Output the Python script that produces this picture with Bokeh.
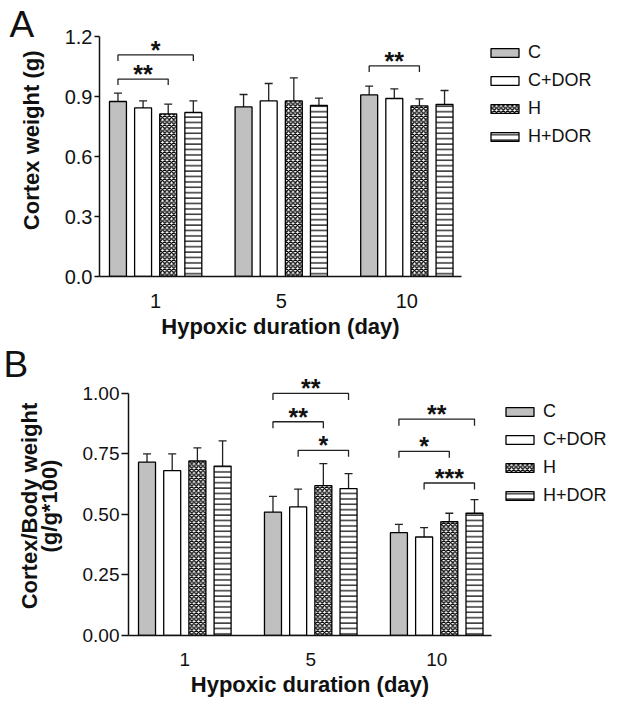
from bokeh.plotting import figure
from bokeh.models import (ColumnDataSource, FixedTicker, Range1d, Whisker, TeeHead,
                          Legend, LegendItem, Title, NumeralTickFormatter)
from bokeh.embed import file_html
from bokeh.resources import INLINE
from bokeh.core.properties import value

# ---------------- data ----------------
days = ["1", "5", "10"]
groups = ["C", "C+DOR", "H", "H+DOR"]

# Panel A: cortex weight (g) - mean and error
a_C = [0.875, 0.848, 0.908]
a_CDOR = [0.843, 0.878, 0.890]
a_H = [0.813, 0.878, 0.853]
a_HDOR = [0.820, 0.855, 0.860]
a_C_err = [0.042, 0.062, 0.044]
a_CDOR_err = [0.035, 0.087, 0.048]
a_H_err = [0.049, 0.115, 0.035]
a_HDOR_err = [0.058, 0.037, 0.070]

# Panel B: cortex/body weight (g/g*100) - mean and error
b_C = [0.716, 0.510, 0.425]
b_CDOR = [0.681, 0.531, 0.407]
b_H = [0.721, 0.619, 0.470]
b_HDOR = [0.700, 0.607, 0.505]
b_C_err = [0.034, 0.065, 0.034]
b_CDOR_err = [0.069, 0.074, 0.039]
b_H_err = [0.054, 0.091, 0.035]
b_HDOR_err = [0.104, 0.062, 0.056]

a_yticks = [0.0, 0.3, 0.6, 0.9, 1.2]
b_yticks = [0.0, 0.25, 0.5, 0.75, 1.0]

# significance brackets: day index, from group, to group, bracket height, label
a_sig_day = [0, 0, 2]
a_sig_from = [0, 0, 0]
a_sig_to = [3, 2, 2]
a_sig_y = [1.108, 0.987, 1.053]
a_sig_txt = ["*", "**", "**"]

b_sig_day = [1, 1, 1, 2, 2, 2]
b_sig_from = [0, 0, 1, 0, 0, 1]
b_sig_to = [3, 2, 3, 3, 2, 3]
b_sig_y = [1.00, 0.883, 0.765, 0.894, 0.761, 0.630]
b_sig_txt = ["**", "**", "*", "**", "*", "***"]

# ---------------- style ----------------
FONT = "Liberation Sans"
OFFSETS = [-0.3, -0.1, 0.1, 0.3]
BAR_W = 0.135
STYLES = [
    dict(fill_color="#c0c0c0"),
    dict(fill_color="white"),
    dict(fill_color="white", hatch_pattern="diagonal_cross", hatch_scale=4.5,
         hatch_weight=1.3, hatch_color="black"),
    dict(fill_color="white", hatch_pattern="horizontal_line", hatch_scale=5.4,
         hatch_weight=1.2, hatch_color="black"),
]


def make_panel(means, errs, sig, yticks, yfmt, ybound, yend, ylabel,
               fw, fh, bl, bt, bb, leg_len, tick_out, tick_font,
               ylab_standoff, ylab_lh, ylab_as_title, leg_xy, leg_margin,
               letter, letter_offset):
    p = figure(frame_width=fw, frame_height=fh, min_border_left=bl,
               min_border_right=0, min_border_top=bt, min_border_bottom=bb,
               x_range=Range1d(-0.447, 2.435), y_range=Range1d(0, yend),
               output_backend="svg", toolbar_location=None)
    p.grid.visible = False
    p.outline_line_color = None

    renderers = []
    for j in range(4):
        src = ColumnDataSource(dict(
            x=[i + OFFSETS[j] for i in range(3)],
            top=means[j],
            upper=[m + e for m, e in zip(means[j], errs[j])]))
        w = Whisker(base="x", lower="top", upper="upper", source=src,
                    lower_head=None,
                    upper_head=TeeHead(size=8, line_width=1.3, line_color="#222222"),
                    line_width=1.3, line_color="#222222")
        p.add_layout(w)
        r = p.vbar(x="x", top="top", width=BAR_W, source=src,
                   line_color="black", line_width=1.3, **STYLES[j])
        renderers.append(r)

    sday, sfrom, sto, sy, stxt = sig
    xs, ys, tx = [], [], []
    for d, a, b, y in zip(sday, sfrom, sto, sy):
        x0 = d + OFFSETS[a]
        x1 = d + OFFSETS[b]
        xs.append([x0, x0, x1, x1])
        ys.append([y - leg_len, y, y, y - leg_len])
        tx.append((x0 + x1) / 2)
    p.multi_line(xs, ys, line_color="#222222", line_width=1.3)
    p.text(x=tx, y=sy, text=stxt, text_font=value(FONT), text_font_style="bold",
           text_font_size="25px", text_align="center", text_baseline="alphabetic",
           y_offset=-5, text_color="#111111")

    xa = p.xaxis[0]
    xa.ticker = FixedTicker(ticks=[0, 1, 2])
    xa.major_label_overrides = {i: d for i, d in enumerate(days)}
    xa.major_tick_out = 0
    xa.major_tick_in = 0
    xa.minor_tick_out = 0
    xa.minor_tick_in = 0
    xa.major_label_standoff = 17
    xa.axis_label = "Hypoxic duration (day)"
    xa.axis_label_standoff = 3

    ya = p.yaxis[0]
    ya.ticker = FixedTicker(ticks=yticks)
    ya.formatter = NumeralTickFormatter(format=yfmt)
    ya.bounds = (0, ybound)
    ya.major_tick_out = tick_out
    ya.major_tick_in = 0
    ya.minor_tick_out = 0
    ya.minor_tick_in = 0
    ya.major_label_standoff = 2

    for ax in (xa, ya):
        ax.axis_line_width = 1.5
        ax.axis_line_color = "#111111"
        ax.major_tick_line_width = 1.5
        ax.major_tick_line_color = "#111111"
        ax.major_label_text_font = FONT
        ax.major_label_text_font_size = tick_font
        ax.major_label_text_color = "#111111"
        ax.axis_label_text_font = FONT
        ax.axis_label_text_font_size = "22px"
        ax.axis_label_text_font_style = "bold"
        ax.axis_label_text_color = "#111111"

    if ylab_as_title:
        # y label placed as a side title so it can sit a little above the frame centre
        p.add_layout(Title(text=ylabel, text_font=FONT, text_font_size="22px",
                           text_font_style="bold", text_color="#111111",
                           align="right", offset=ylab_as_title, standoff=ylab_standoff,
                           vertical_align="middle"), "left")
    else:
        ya.axis_label = ylabel
        ya.axis_label_standoff = ylab_standoff
        ya.axis_label_text_line_height = ylab_lh

    items = [LegendItem(label=g, renderers=[r]) for g, r in zip(groups, renderers)]
    leg = Legend(items=items, location=leg_xy, glyph_width=35, glyph_height=11,
                 label_height=22, spacing=6, padding=0, margin=leg_margin,
                 label_standoff=6, border_line_color=None, background_fill_alpha=0,
                 label_text_font=FONT, label_text_font_size="18px",
                 label_text_color="#111111")
    p.add_layout(leg, "right")

    p.title = Title(text=letter, text_font=FONT, text_font_size="37px",
                    text_font_style="normal", text_color="#111111",
                    align="left", offset=letter_offset, standoff=-17.6,
                    vertical_align="bottom")
    return p


pA = make_panel([a_C, a_CDOR, a_H, a_HDOR], [a_C_err, a_CDOR_err, a_H_err, a_HDOR_err],
                (a_sig_day, a_sig_from, a_sig_to, a_sig_y, a_sig_txt),
                a_yticks, "0.0", 1.2, 1.2, "Cortex weight (g)",
                fw=362, fh=240, bl=97, bt=36, bb=68, leg_len=0.03,
                tick_out=5, tick_font="20px", ylab_standoff=34, ylab_lh=1.0,
                ylab_as_title=14, leg_xy=(26, 129), leg_margin=26,
                letter="A", letter_offset=-90)

pB = make_panel([b_C, b_CDOR, b_H, b_HDOR], [b_C_err, b_CDOR_err, b_H_err, b_HDOR_err],
                (b_sig_day, b_sig_from, b_sig_to, b_sig_y, b_sig_txt),
                b_yticks, "0.00", 1.0, 1.07, "Cortex/Body weight\n(g/g*100)",
                fw=363, fh=259, bl=128, bt=32, bb=68, leg_len=0.027,
                tick_out=7, tick_font="19px", ylab_standoff=18, ylab_lh=0.8,
                ylab_as_title=None, leg_xy=(11, 129), leg_margin=11,
                letter="B", letter_offset=-125)

open("out.html", "w").write(file_html([pA, pB], INLINE))
